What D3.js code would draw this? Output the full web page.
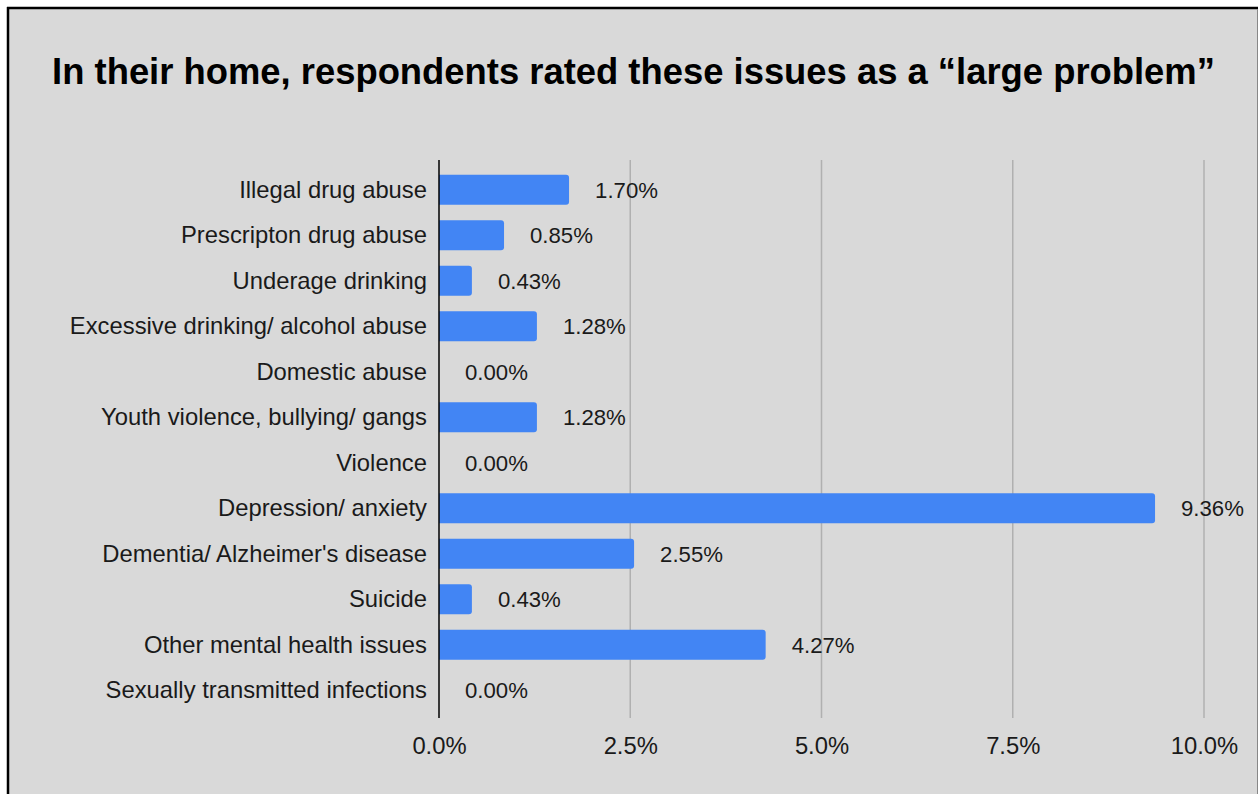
<!DOCTYPE html>
<html><head><meta charset="utf-8">
<script src="https://cdn.jsdelivr.net/npm/d3@7"></script>
<style>
html,body{margin:0;padding:0;background:#fff;}
svg{display:block;}
</style></head>
<body>
<svg id="chart" width="1258" height="794"></svg>
<script>
const categories = [
  "Illegal drug abuse",
  "Prescripton drug abuse",
  "Underage drinking",
  "Excessive drinking/ alcohol abuse",
  "Domestic abuse",
  "Youth violence, bullying/ gangs",
  "Violence",
  "Depression/ anxiety",
  "Dementia/ Alzheimer's disease",
  "Suicide",
  "Other mental health issues",
  "Sexually transmitted infections"
];
const values = [1.70, 0.85, 0.43, 1.28, 0.00, 1.28, 0.00, 9.36, 2.55, 0.43, 4.27, 0.00];
const tickValues = [0, 2.5, 5, 7.5, 10];
const tickLabels = ["0.0%", "2.5%", "5.0%", "7.5%", "10.0%"];
const title = "In their home, respondents rated these issues as a \u201clarge problem\u201d";

const svg = d3.select("#chart");
const W = 1258, H = 794;
const font = "'Liberation Sans', Arial, sans-serif";

// background and frame
svg.append("rect").attr("x", 0).attr("y", 0).attr("width", W).attr("height", H).attr("fill", "#fff");
svg.append("rect").attr("x", 8).attr("y", 8).attr("width", 1249).attr("height", 800)
  .attr("fill", "#d9d9d9").attr("stroke", "none");
svg.append("line").attr("x1", 8).attr("x2", 8).attr("y1", 7).attr("y2", H).attr("stroke", "#000").attr("stroke-width", 2.5);
svg.append("line").attr("x1", 7).attr("x2", 1258).attr("y1", 8).attr("y2", 8).attr("stroke", "#000").attr("stroke-width", 2.5);
svg.append("line").attr("x1", 1257.5).attr("x2", 1257.5).attr("y1", 9).attr("y2", H).attr("stroke", "#888").attr("stroke-width", 1);

// title
svg.append("text").attr("x", 633.5).attr("y", 84).attr("text-anchor", "middle")
  .attr("font-family", font).attr("font-weight", "bold").attr("font-size", 36.4)
  .attr("fill", "#000").text(title);

const x = d3.scaleLinear().domain([0, 10]).range([439, 1204]);
const y = d3.scaleBand().domain(categories).range([167, 713]).paddingInner(0.34).paddingOuter(0.17);

const yTop = 160, yBot = 718;

// gridlines
svg.append("g").selectAll("line").data(tickValues.filter(d => d > 0)).join("line")
  .attr("x1", d => x(d)).attr("x2", d => x(d)).attr("y1", yTop).attr("y2", yBot)
  .attr("stroke", "#b0b0b0").attr("stroke-width", 1.5);

// bars (rounded right end)
const r = 3;
svg.append("g").selectAll("path").data(values.map((v, i) => ({v, c: categories[i]})).filter(d => d.v > 0)).join("path")
  .attr("fill", "#4285f4")
  .attr("d", d => {
    const x0 = x(0), x1 = x(d.v), y0 = y(d.c), h = y.bandwidth();
    const rr = Math.min(r, x1 - x0);
    return `M${x0},${y0}H${x1 - rr}Q${x1},${y0} ${x1},${y0 + rr}V${y0 + h - rr}Q${x1},${y0 + h} ${x1 - rr},${y0 + h}H${x0}Z`;
  });

// value labels
svg.append("g").selectAll("text").data(values.map((v, i) => ({v, c: categories[i]}))).join("text")
  .attr("x", d => x(d.v) + 26).attr("y", d => y(d.c) + y.bandwidth() / 2 + 8)
  .attr("font-family", font).attr("font-size", 22.2).attr("fill", "#1a1a1a")
  .text(d => d.v.toFixed(2) + "%");

// y axis line
svg.append("line").attr("x1", x(0)).attr("x2", x(0)).attr("y1", yTop).attr("y2", yBot)
  .attr("stroke", "#000").attr("stroke-width", 1.5);

// category labels
svg.append("g").selectAll("text").data(categories).join("text")
  .attr("x", 427).attr("y", d => y(d) + y.bandwidth() / 2 + 8).attr("text-anchor", "end")
  .attr("font-family", font).attr("font-size", 23.8).attr("fill", "#1a1a1a")
  .text(d => d);

// x tick labels
const xAxis = d3.axisBottom(x).tickValues(tickValues).tickFormat((d, i) => tickLabels[i]).tickSize(0).tickPadding(0);
const gx = svg.append("g").attr("transform", `translate(0,754)`).call(xAxis);
gx.select(".domain").remove();
gx.selectAll("text").attr("font-family", font).attr("font-size", 23.8).attr("fill", "#1a1a1a").attr("dy", 0);
</script>
</body></html>
